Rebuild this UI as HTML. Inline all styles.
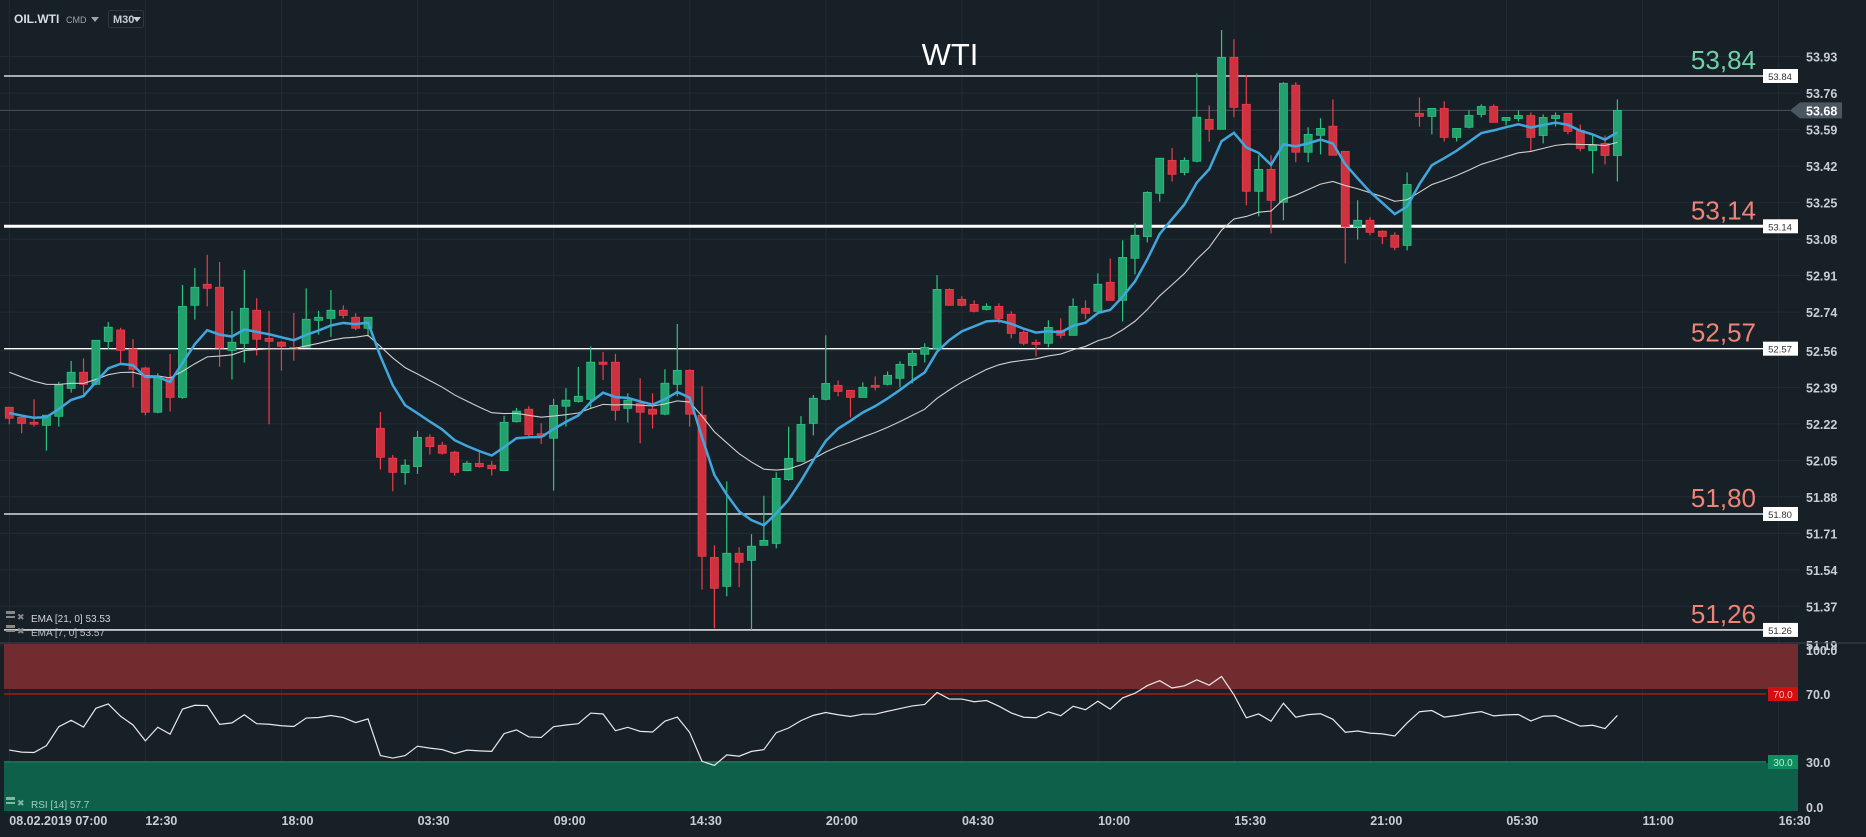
<!DOCTYPE html>
<html><head><meta charset="utf-8"><style>
html,body{margin:0;padding:0;background:#182027;overflow:hidden}
svg{display:block;font-family:"Liberation Sans",sans-serif}
</style></head><body>
<svg id="c" width="1866" height="837" viewBox="0 0 1866 837" xmlns="http://www.w3.org/2000/svg">
<rect width="1866" height="837" fill="#182027"/>
<g id="grid"></g>
<g id="levels"></g>
<g id="candles"></g>
<g id="emas"></g>
<g id="rsi"></g>
<g id="axes"></g>
<g>
  <text x="14" y="23" font-size="12" font-weight="bold" fill="#d8dde2">OIL.WTI</text>
  <text x="66" y="23" font-size="9" fill="#9aa5ae">CMD</text>
  <polygon points="91,17 99,17 95,22" fill="#9aa5ae"/>
  <rect x="108.5" y="10.5" width="35" height="17" rx="2" fill="none" stroke="#2c363f"/>
  <text x="113" y="23" font-size="11" font-weight="bold" fill="#c8ced3">M30</text>
  <polygon points="133,17 141,17 137,22" fill="#c8ced3"/>
  <text x="950" y="65" font-size="31" fill="#ffffff" text-anchor="middle">WTI</text>
</g>
<g>
  <rect x="6" y="611" width="9" height="3" fill="#888"/><rect x="6" y="616" width="9" height="2" fill="#888"/>
  <text x="17" y="620" font-size="9" fill="#888">✖</text>
  <text x="31" y="622" font-size="10" fill="#d0d4d8">EMA  [21, 0]  53.53</text>
  <rect x="6" y="625" width="9" height="3" fill="#888"/><rect x="6" y="630" width="9" height="2" fill="#888"/>
  <text x="17" y="634" font-size="9" fill="#888">✖</text>
  <text x="31" y="636" font-size="10" fill="#c0c4c8">EMA  [7, 0]  53.57</text>
  <rect x="6" y="797" width="9" height="3" fill="#7fb8a0"/><rect x="6" y="802" width="9" height="2" fill="#7fb8a0"/>
  <text x="17" y="806" font-size="9" fill="#7fb8a0">✖</text>
  <text x="31" y="808" font-size="10" fill="#9fd0bb">RSI  [14]  57.7</text>
</g>
<script>
const opens=[52.297,52.250,52.227,52.213,52.255,52.385,52.460,52.404,52.604,52.657,52.569,52.480,52.274,52.435,52.343,52.772,52.870,52.856,52.562,52.595,52.749,52.618,52.600,52.576,52.576,52.702,52.711,52.749,52.716,52.665,
52.199,52.060,51.993,52.021,52.157,52.120,52.088,52.002,52.036,52.027,52.002,52.230,52.288,52.174,52.153,52.302,52.324,52.334,52.507,52.507,52.292,52.316,52.288,52.265,52.404,52.469,52.260,51.598,51.463,51.617,51.584,
51.654,51.663,51.960,52.045,52.222,52.334,52.399,52.376,52.343,52.399,52.404,52.432,52.492,52.544,52.571,52.846,52.800,52.776,52.753,52.767,52.730,52.646,52.599,52.595,52.655,52.632,52.758,52.744,52.879,
52.795,52.991,53.092,53.294,53.447,53.391,53.443,53.638,53.592,53.927,53.708,53.303,53.405,53.252,53.797,53.485,53.564,53.606,53.489,53.138,53.168,53.117,53.098,
53.051,53.666,53.652,53.689,53.554,53.601,53.661,53.698,53.633,53.642,53.656,53.563,53.642,53.666,53.586,53.493,53.526,53.470];
const closes=[52.246,52.222,52.218,52.260,52.401,52.460,52.404,52.609,52.670,52.562,52.474,52.274,52.440,52.343,52.767,52.856,52.851,52.573,52.600,52.758,52.614,52.604,52.581,52.569,52.707,52.716,52.749,52.725,52.665,52.716,
52.064,51.994,52.027,52.157,52.114,52.083,51.994,52.036,52.021,52.011,52.227,52.279,52.170,52.162,52.306,52.330,52.348,52.507,52.497,52.283,52.330,52.274,52.265,52.409,52.469,52.265,51.603,51.454,51.617,51.575,51.650,
51.677,51.966,52.059,52.217,52.339,52.408,52.371,52.343,52.390,52.390,52.446,52.497,52.548,52.576,52.846,52.772,52.772,52.744,52.767,52.711,52.641,52.595,52.590,52.669,52.632,52.767,52.735,52.870,52.795,
52.995,53.098,53.298,53.457,53.382,53.447,53.648,53.592,53.927,53.694,53.303,53.405,53.261,53.806,53.485,53.568,53.596,53.471,53.138,53.168,53.112,53.093,53.042,
53.335,53.652,53.689,53.554,53.596,53.656,53.698,53.624,53.647,53.656,53.554,53.647,53.656,53.582,53.503,53.517,53.470,53.680];
const highs=[52.297,52.250,52.334,52.260,52.416,52.513,52.525,52.610,52.694,52.667,52.615,52.486,52.455,52.545,52.867,52.946,53.007,52.974,52.746,52.937,52.805,52.746,52.606,52.736,52.851,52.746,52.843,52.772,52.735,52.716,
52.275,52.075,52.055,52.187,52.171,52.136,52.094,52.047,52.089,52.047,52.257,52.294,52.302,52.223,52.336,52.386,52.485,52.581,52.555,52.546,52.362,52.432,52.362,52.474,52.685,52.474,52.395,51.654,51.952,51.645,51.706,
51.885,51.994,52.207,52.256,52.354,52.632,52.422,52.376,52.413,52.441,52.464,52.511,52.562,52.595,52.913,52.851,52.814,52.795,52.781,52.781,52.744,52.655,52.613,52.702,52.711,52.804,52.795,52.921,52.990,
53.075,53.154,53.303,53.457,53.505,53.461,53.853,53.703,54.054,54.011,53.843,53.471,53.471,53.811,53.811,53.601,53.643,53.731,53.489,53.261,53.182,53.121,53.112,
53.391,53.740,53.689,53.722,53.596,53.680,53.708,53.708,53.647,53.680,53.670,53.661,53.670,53.666,53.614,53.572,53.563,53.731];
const lows=[52.218,52.176,52.207,52.095,52.207,52.365,52.359,52.400,52.567,52.502,52.389,52.260,52.269,52.277,52.337,52.705,52.767,52.486,52.426,52.505,52.538,52.218,52.468,52.514,52.576,52.635,52.625,52.711,52.656,52.626,
52.007,51.906,51.937,51.987,52.077,52.077,51.979,52.002,52.016,51.979,52.002,52.226,52.161,52.126,51.909,52.207,52.319,52.292,52.424,52.235,52.226,52.129,52.198,52.260,52.348,52.207,51.448,51.268,51.417,51.459,51.260,
51.654,51.640,51.955,52.045,52.166,52.329,52.348,52.250,52.343,52.376,52.399,52.390,52.408,52.506,52.571,52.772,52.767,52.739,52.748,52.688,52.618,52.585,52.534,52.576,52.618,52.632,52.707,52.744,52.795,
52.697,52.916,53.065,53.255,53.348,53.377,53.438,53.534,53.592,53.648,53.238,53.186,53.107,53.168,53.438,53.438,53.475,53.471,52.967,53.078,53.098,53.056,53.028,
53.028,53.604,53.568,53.535,53.535,53.596,53.647,53.624,53.610,53.628,53.489,53.526,53.605,53.568,53.489,53.386,53.428,53.349];
const priceTicks=["53.93","53.76","53.59","53.42","53.25","53.08","52.91","52.74","52.56","52.39","52.22","52.05","51.88","51.71","51.54","51.37","51.19"];
const levelValues=[53.84,53.14,52.57,51.80,51.26];
const levelBig=["53,84","53,14","52,57","51,80","51,26"];
const timeLabels=["08.02.2019  07:00","12:30","18:00","03:30","09:00","14:30","20:00","04:30","10:00","15:30","21:00","05:30","11:00","16:30"];
const rsiTicks=[100,70,30,0];
const ema7Seed=52.27, ema21Seed=52.46, rsiGainSeed=0.020, rsiLossSeed=0.034;

const NS="http://www.w3.org/2000/svg";
function mk(tag,at,parent){const e=document.createElementNS(NS,tag);for(const k in at)e.setAttribute(k,at[k]);parent.appendChild(e);return e;}
const yP=p=>76+(53.84-p)*214.7;
const xI=i=>9.3+12.37*i;
const yR=v=>813-v*1.7;
const G=document.getElementById('grid'),L=document.getElementById('levels'),C=document.getElementById('candles'),E=document.getElementById('emas'),R=document.getElementById('rsi'),A=document.getElementById('axes');

priceTicks.forEach(t=>{const y=yP(+t);const l=mk('line',{x1:0,x2:1800,y1:y,y2:y,stroke:'#222b33','stroke-width':1},G);


const tx=mk('text',{x:1806,y:y+5,'font-size':12.5,'font-weight':'bold',fill:'#c9ced3'},A);tx.textContent=t;

});
timeLabels.forEach((t,k)=>{const x=9.3+136.1*k;const l=mk('line',{x1:x,x2:x,y1:0,y2:813,stroke:'#222b33','stroke-width':1},G);


const tx=mk('text',{x:x,y:825,'font-size':12.5,'font-weight':'bold',fill:'#c9ced3','xml:space':'preserve'},A);tx.textContent=t;

});
let sp=mk('line',{x1:0,x2:1866,y1:643,y2:643,stroke:'#3a444d','stroke-width':1},A);



const last=closes[closes.length-1];
let cl=mk('line',{x1:0,x2:1790,y1:yP(last),y2:yP(last),stroke:'#47525c','stroke-width':1},L);


let tag=mk('polygon',{points:`1790,${yP(last)} 1800,${yP(last)-8} 1842,${yP(last)-8} 1842,${yP(last)+8} 1800,${yP(last)+8}`,fill:'#4a5761'},A);


let tt=mk('text',{x:1806,y:yP(last)+5,'font-size':12.5,'font-weight':'bold',fill:'#fff'},A);tt.textContent=last.toFixed(2);



levelValues.forEach((v,i)=>{const y=yP(v);
const l=mk('line',{x1:4,x2:1763,y1:y,y2:y,stroke:'#ffffff','stroke-width':i==1?3:1.3},L);


const b=mk('rect',{x:1763,y:y-7,width:35,height:14,fill:'#ffffff'},L);


const bt=mk('text',{x:1780,y:y+4,'font-size':9.5,fill:'#333','text-anchor':'middle'},L);bt.textContent=v.toFixed(2);


const bg=mk('text',{x:1756,y:y-7,'font-size':26,fill:i==0?'#6fd1a8':'#ee8478','text-anchor':'end'},L);bg.textContent=levelBig[i];

});

opens.forEach((o,i)=>{const c=closes[i],up=c>=o,x=xI(i);
const col=up?'#2bc47f':'#ef3c4b',fill=up?'#23a06d':'#d0313f';
const w=mk('line',{x1:x,x2:x,y1:yP(highs[i]),y2:yP(lows[i]),stroke:col,'stroke-width':1.2},C);


const t=yP(Math.max(o,c)),h=Math.max(1.5,Math.abs(yP(o)-yP(c)));
const r=mk('rect',{x:x-4,y:t,width:8,height:h,fill:fill,stroke:col,'stroke-width':0.8},C);

});

function ema(n,seed){const a=2/(n+1);let v=seed;return closes.map((c,i)=>{if(i>0)v=v+a*(c-v);return v;});}
const e21=ema(21,ema21Seed),e7=ema(7,ema7Seed);
let p21=mk('polyline',{points:e21.map((v,i)=>xI(i)+','+yP(v)).join(' '),fill:'none',stroke:'#cfcfcf','stroke-width':1.1},E);


let p7=mk('polyline',{points:e7.map((v,i)=>xI(i)+','+yP(v)).join(' '),fill:'none',stroke:'#3fa7dc','stroke-width':2.5},E);



let ob=mk('rect',{x:4,y:644,width:1794,height:yR(70)-5-644,fill:'#722c30'},R);


let l70=mk('line',{x1:4,x2:1766,y1:yR(70),y2:yR(70),stroke:'#c2171d','stroke-width':1.2},R);


let os=mk('rect',{x:4,y:yR(30)+1,width:1794,height:811-yR(30)-1,fill:'#0f604a'},R);


let l30=mk('line',{x1:4,x2:1766,y1:yR(30),y2:yR(30),stroke:'#1d9b6c','stroke-width':1.2},R);


let b70=mk('rect',{x:1768,y:yR(70)-7,width:30,height:14,fill:'#d30f0f'},R);


let t70=mk('text',{x:1783,y:yR(70)+4,'font-size':10,fill:'#f3c8c8','text-anchor':'middle'},R);t70.textContent='70.0';


let b30=mk('rect',{x:1768,y:yR(30)-7,width:30,height:14,fill:'#0d8f5f'},R);


let t30=mk('text',{x:1783,y:yR(30)+4,'font-size':10,fill:'#bfe8d6','text-anchor':'middle'},R);t30.textContent='30.0';


rsiTicks.forEach(v=>{const y=v===100?655:(v===0?812:yR(v)+5);const tx=mk('text',{x:1806,y:y,'font-size':12.5,'font-weight':'bold',fill:'#c9ced3'},A);tx.textContent=v.toFixed(1);

});
let ag=rsiGainSeed,al=rsiLossSeed;const rsiVals=closes.map((c,i)=>{if(i>0){const d=c-closes[i-1];ag=(ag*13+Math.max(d,0))/14;al=(al*13+Math.max(-d,0))/14;}return 100-100/(1+ag/al);});
let rl=mk('polyline',{points:rsiVals.map((v,i)=>xI(i)+','+yR(v)).join(' '),fill:'none',stroke:'#e8e8e8','stroke-width':1.2},R);


</script>
</svg>
</body></html>
